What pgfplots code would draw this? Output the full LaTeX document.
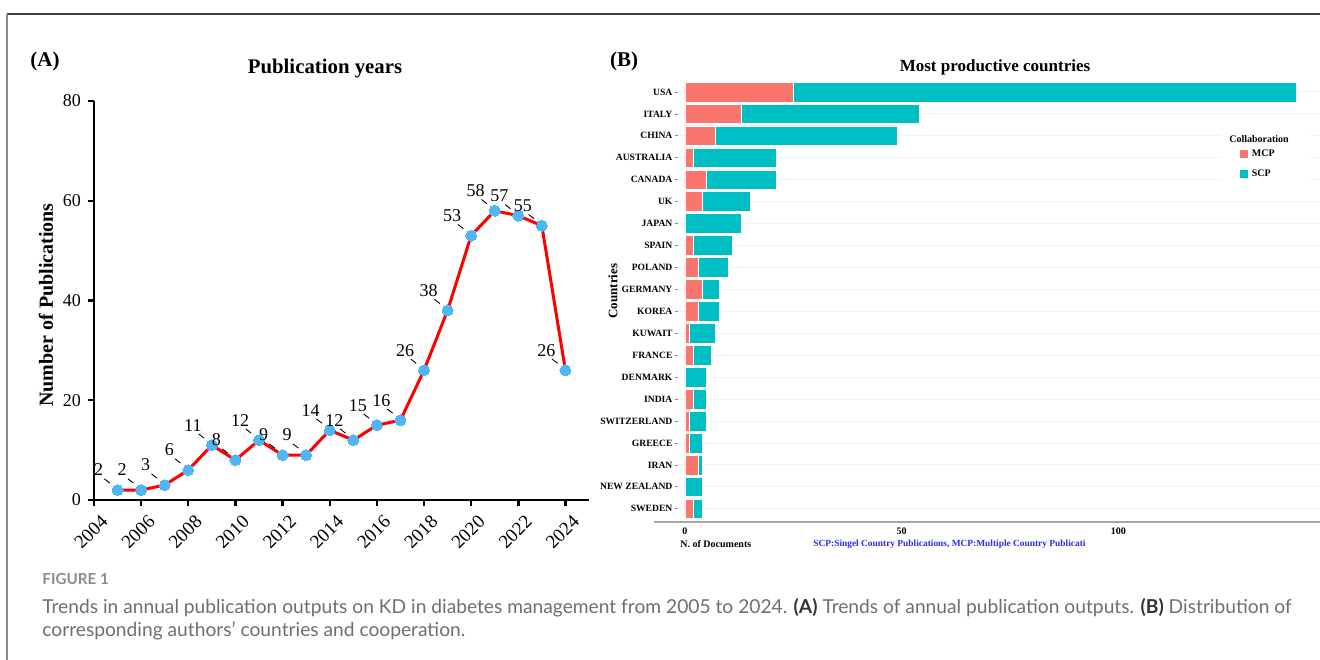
\documentclass[border=0pt]{standalone}
\usepackage{pgfplots}
\usepackage{pgfplotstable}
\pgfplotsset{compat=1.18}
\usepackage{fontspec}
\setmainfont{Liberation Serif}
\newfontfamily\capfont{Lato}

\definecolor{ptblue}{HTML}{4FB6F2}
\definecolor{mcp}{HTML}{F8766D}
\definecolor{scp}{HTML}{00BFC4}
\definecolor{capgray}{HTML}{6E6E6E}
\definecolor{figgray}{HTML}{8C8C8C}
\definecolor{noteblue}{HTML}{2A2AF0}

% short leader stroke that runs from a value label towards its point
\pgfdeclareplotmark{leader}{%
  \pgfpathmoveto{\pgfpoint{-6.6pt}{5.6pt}}%
  \pgfpathlineto{\pgfpoint{-3.9pt}{3.5pt}}%
  \pgfusepathqstroke}

% annual publication counts
\pgfplotstableread{
year count
2005 2
2006 2
2007 3
2008 6
2009 11
2010 8
2011 12
2012 9
2013 9
2014 14
2015 12
2016 15
2017 16
2018 26
2019 38
2020 53
2021 58
2022 57
2023 55
2024 26
}\pubdata

% corresponding-author countries, bottom row first
\pgfplotstableread{
idx mcp scp
0  2 2
1  0 4
2  3 1
3  1 3
4  1 4
5  2 3
6  0 5
7  2 4
8  1 6
9  3 5
10 4 4
11 3 7
12 2 9
13 0 13
14 4 11
15 5 16
16 2 19
17 7 42
18 13 41
19 25 116
}\countrydata

\begin{document}
\begin{tikzpicture}
\useasboundingbox (0,0) rectangle (660pt,329.5pt);

% figure frame
\draw[line width=1pt, color=black!75] (3.5pt,322.5pt) -- (662pt,322.5pt);
\draw[line width=1pt, color=black!45] (3.5pt,-2pt) -- (3.5pt,322.5pt);

% ---------------- panel A ----------------
\begin{axis}[
  at={(47pt,79.5pt)}, anchor=south west,
  scale only axis, width=247.5pt, height=199.5pt,
  xmin=2004, xmax=2025, ymin=0, ymax=80,
  axis lines*=left,
  axis line style={line width=1.4pt, black},
  xtick={2004,2006,...,2024}, ytick={0,20,...,80},
  tick align=outside, major tick length=3pt,
  tick style={line width=1.2pt, black},
  /pgf/number format/assume math mode=true,
  /pgf/number format/1000 sep={},
  xticklabel style={font=\fontsize{9.5}{10}\selectfont, xshift=-1.5pt, yshift=-13pt, rotate=45, anchor=center},
  yticklabel style={font=\fontsize{9}{10}\selectfont},
  clip=false,
]
\addplot[only marks, mark=leader, mark options={line width=0.45pt, black}] table[x=year, y=count] {\pubdata};
\addplot[red, line width=1.5pt, mark=*, mark size=2.75pt,
  mark options={draw=ptblue, fill=ptblue, line width=0pt},
  nodes near coords,
  every node near coord/.style={anchor=center, xshift=-9.5pt, yshift=10pt,
    text=black, font=\fontsize{9}{10}\selectfont, inner sep=0pt}]
  table[x=year, y=count] {\pubdata};
\end{axis}

\node[font=\fontsize{10.5}{12}\bfseries\selectfont] at (22.5pt,299pt) {(A)};
\node[font=\fontsize{10.4}{12}\bfseries\selectfont] at (162.5pt,295pt) {Publication years};
\node[font=\fontsize{10}{12}\bfseries\selectfont, rotate=90] at (23pt,177pt) {Number of Publications};

% ---------------- panel B ----------------
\begin{axis}[
  at={(339pt,68.5pt)}, anchor=south west,
  scale only axis, width=321pt, height=221.6pt,
  xbar stacked, bar width=0.9,
  xmin=-1.6, xmax=146.5, ymin=-0.6, ymax=19.6,
  axis lines*=left,
  x axis line style={line width=0.8pt, color=black!35},
  y axis line style={draw=none},
  ytick={0,...,19},
  yticklabels={SWEDEN,NEW ZEALAND,IRAN,GREECE,SWITZERLAND,INDIA,DENMARK,FRANCE,KUWAIT,KOREA,GERMANY,POLAND,SPAIN,JAPAN,UK,CANADA,AUSTRALIA,CHINA,ITALY,USA},
  xtick={0,50,100},
  tick align=outside,
  xtick style={draw=none},
  ytick style={color=black!45, line width=0.4pt},
  major tick length=1.6pt,
  ymajorgrids, grid style={color=black!5, line width=0.5pt},
  /pgf/number format/assume math mode=true,
  yticklabel style={font=\fontsize{4.8}{6}\bfseries\selectfont, inner sep=1pt},
  xticklabel style={font=\fontsize{5}{6}\bfseries\selectfont, inner sep=1pt},
  legend cell align=left,
  legend style={at={(0.872,0.855)}, anchor=north west, draw=none, fill=white,
    font=\fontsize{5}{6}\bfseries\selectfont, row sep=1.2pt, inner sep=1pt},
  clip=false,
]
% bottom axis line continues to the left of the country ticks
\draw[line width=0.8pt, color=black!35] (axis cs:-7.05,-0.6) -- (axis cs:-1.6,-0.6);
\fill[white] (axis description cs:0.845,0.885) rectangle (axis description cs:0.985,0.76);
\addplot[fill=mcp, draw=white, line width=0.3pt,
  legend image code/.code={\fill[mcp] (0pt,-1.75pt) rectangle (3.5pt,1.75pt);}]
  table[x=mcp, y=idx] {\countrydata};
\addplot[fill=scp, draw=white, line width=0.3pt,
  legend image code/.code={\fill[scp] (0pt,-1.75pt) rectangle (3.5pt,1.75pt);}]
  table[x=scp, y=idx] {\countrydata};
\legend{MCP, SCP}
\end{axis}

\node[font=\fontsize{10.5}{12}\bfseries\selectfont] at (312pt,299pt) {(B)};
\node[font=\fontsize{8.5}{10}\bfseries\selectfont] at (497.5pt,296pt) {Most productive countries};
\node[font=\fontsize{6.5}{8}\bfseries\selectfont, rotate=90] at (306.5pt,184pt) {Countries};
\node[font=\fontsize{5}{6}\bfseries\selectfont] at (629.5pt,260pt) {Collaboration};
\node[font=\fontsize{5}{6}\bfseries\selectfont, anchor=west, inner sep=0pt] at (340pt,57.5pt) {N. of Documents};
\node[font=\fontsize{4.7}{6}\bfseries\selectfont, anchor=west, inner sep=0pt, text=noteblue] at (406.5pt,57.5pt)
  {SCP:Singel Country Publications, MCP:Multiple Country Publicati};

% ---------------- caption ----------------
\node[anchor=base west, inner sep=0pt, font=\capfont\bfseries\fontsize{7.6}{9}\selectfont, text=figgray] at (21pt,37.5pt) {FIGURE 1};
\node[anchor=base west, inner sep=0pt, font=\capfont\fontsize{9.6}{11}\selectfont, text=capgray] at (21pt,23pt)
  {Trends in annual publication outputs on KD in diabetes management from 2005 to 2024. \textbf{\color{black!80}(A)} Trends of annual publication outputs. \textbf{\color{black!80}(B)} Distribution of};
\node[anchor=base west, inner sep=0pt, font=\capfont\fontsize{9.6}{11}\selectfont, text=capgray] at (21pt,11.5pt)
  {corresponding authors’ countries and cooperation.};
\end{tikzpicture}
\end{document}
